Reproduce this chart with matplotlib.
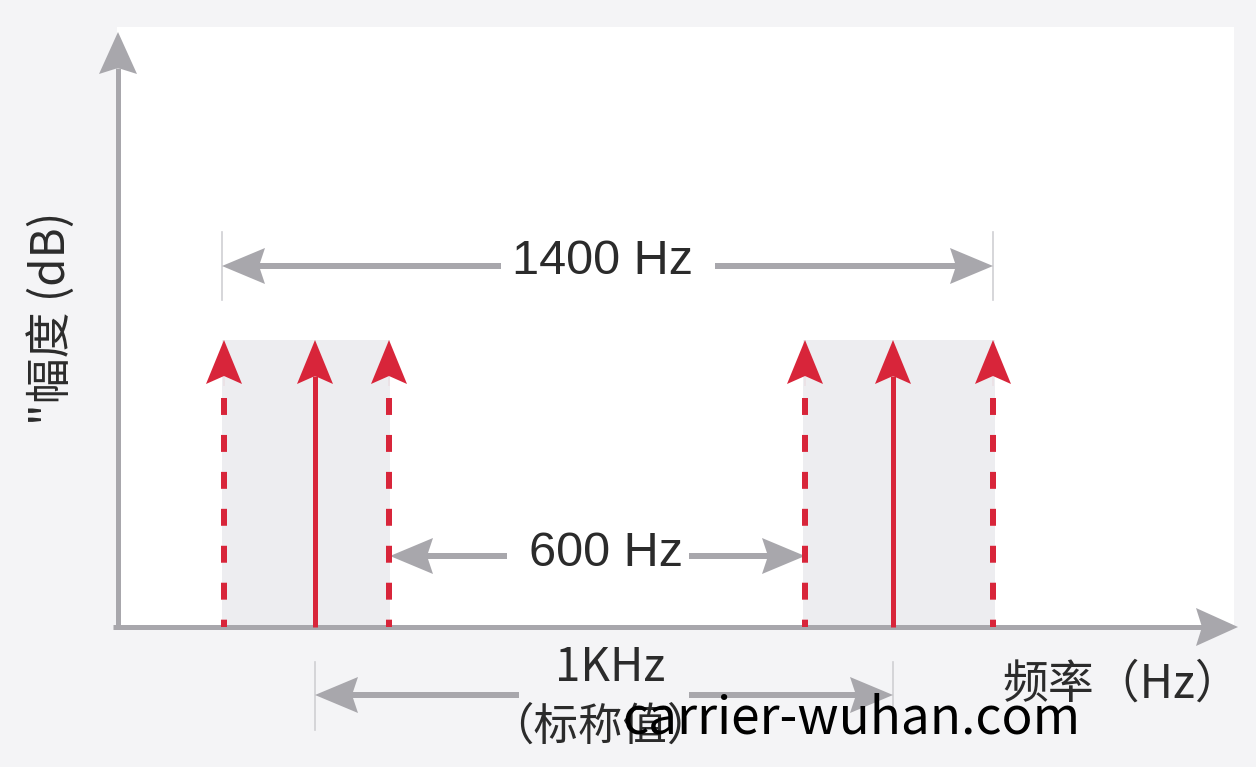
import numpy as np
import matplotlib
matplotlib.use('Agg')
import matplotlib.pyplot as plt
from matplotlib.patches import Polygon, Rectangle

plt.rcParams['lines.scale_dashes'] = False

# Diagram layout, in picture units (x to the right, y downwards)
carrier_x = [315, 893]               # nominal carriers (solid arrows)
sideband_x = [224, 389, 805, 993]    # sideband limits (dashed arrows)
band_left = [222, 803]
band_right = [390, 995]
peak_level = 340
baseline = 627

dim_labels = ['1400 Hz', '600 Hz', '1KHz']
dim_start = [222, 390, 315]
dim_end = [993, 805, 893]
dim_y = [266, 556, 695]
dim_gap = [107, 91, 85]

BG = '#f4f4f6'
GRAY = '#a8a7ac'
LIGHT = '#ededf0'
RED = '#d8253a'
TEXT = '#2b2b2b'
LATIN = ['Liberation Sans', 'DejaVu Sans']
CJK = ['Noto Sans CJK SC', 'DejaVu Sans']


def arrow(ax, x0, y0, x1, y1, color, lw_px, head_len, head_half, notch=7,
          ls='-', z=3):
    # shaft plus a filled, slightly notched head, all in picture units
    d = np.array([x1 - x0, y1 - y0], dtype=float)
    L = np.hypot(*d)
    u = d / L
    n = np.array([-u[1], u[0]])
    tip = np.array([x1, y1], dtype=float)
    base = tip - u * head_len
    shaft_end = base + u * (notch if ls == '-' else 0)
    pts = [tip, base + n * head_half, tip - u * (head_len - notch),
           base - n * head_half]
    ax.add_patch(Polygon(pts, closed=True, fc=color, ec='none', zorder=z + 0.1))
    ax.plot([x0, shaft_end[0]], [y0, shaft_end[1]], color=color,
            lw=lw_px * 0.72, solid_capstyle='butt', dash_capstyle='butt',
            linestyle=ls, zorder=z)


fig = plt.figure(figsize=(12.56, 7.67), dpi=100, facecolor=BG)
ax = fig.add_axes([0, 0, 1, 1])
ax.set_xlim(0, 1256)
ax.set_ylim(767, 0)
ax.axis('off')

# white plotting panel
ax.add_patch(Rectangle((117, 27), 1117, baseline - 27, fc='white', ec='none', zorder=0))

# shaded bands
for l, r in zip(band_left, band_right):
    ax.add_patch(Rectangle((l, peak_level), r - l, baseline - peak_level,
                           fc=LIGHT, ec='none', zorder=1))

# axes with arrowheads
arrow(ax, 118, baseline + 2, 118, 32, GRAY, 5, 42, 19, notch=6, z=2)
arrow(ax, 113, baseline, 1238, baseline, GRAY, 5, 42, 19, notch=6, z=2)

# dashed sideband arrows
for x in sideband_x:
    ax.plot([x, x], [398, baseline], color=RED, lw=6 * 0.72,
            linestyle=(0, (12.2, 14.4)), dash_capstyle='butt', zorder=3)
    arrow(ax, x, 386, x, peak_level, RED, 0.1, 44, 18, notch=8, z=3)

# solid carrier arrows
for x in carrier_x:
    arrow(ax, x, baseline, x, peak_level, RED, 5, 44, 18, notch=8, z=3)

# extension lines for the dimensions
for x in [dim_start[0], dim_end[0]]:
    ax.plot([x, x], [232, 300], color='#cfcfd3', lw=1.2, zorder=2)
for x in [dim_start[2], dim_end[2]]:
    ax.plot([x, x], [662, 730], color='#cfcfd3', lw=1.2, zorder=2)

# dimension arrows
for lab, x0, x1, y, g in zip(dim_labels, dim_start, dim_end, dim_y, dim_gap):
    cx = (x0 + x1) / 2
    arrow(ax, cx - g, y, x0, y, GRAY, 6, 43, 18, notch=6, z=2)
    arrow(ax, cx + g, y, x1, y, GRAY, 6, 43, 18, notch=6, z=2)

ax.text(603, 262, dim_labels[0], fontsize=35, family=LATIN, color=TEXT,
        ha='center', va='center', zorder=5)
ax.text(606, 553, dim_labels[1], fontsize=35, family=LATIN, color=TEXT,
        ha='center', va='center', zorder=5)
ax.text(610, 668, dim_labels[2], fontsize=33, family=CJK, color=TEXT,
        ha='center', va='center', zorder=5)
ax.text(600, 727, '（标称值）', fontsize=32, family=CJK, color=TEXT,
        ha='center', va='center', zorder=5)
ax.text(1122, 684, '频率（Hz）', fontsize=33, family=CJK, color=TEXT,
        ha='center', va='center', zorder=5)
ax.text(52, 318, '"幅度 (dB)', fontsize=33, family=CJK, color=TEXT,
        ha='center', va='center', rotation=90, zorder=5)

# watermark
ax.text(851, 719, 'carrier-wuhan.com', fontsize=37, family=CJK, color='black',
        ha='center', va='center', zorder=6)

fig.savefig('out.png', dpi=100, facecolor=BG)
